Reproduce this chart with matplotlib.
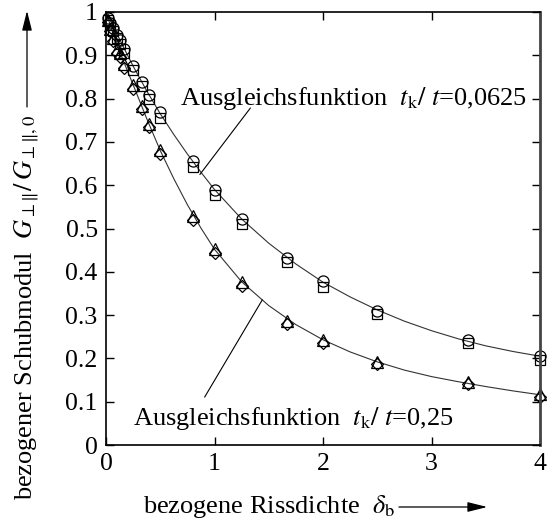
import matplotlib
matplotlib.use("Agg")
import matplotlib.pyplot as plt

plt.rcParams['font.family'] = ['Liberation Serif', 'DejaVu Serif']
plt.rcParams['mathtext.fontset'] = 'stix'

# bezogene Rissdichte (Messpunkte)
delta_b = [0.02, 0.04, 0.0667, 0.1, 0.125, 0.167, 0.25, 0.333, 0.4, 0.5,
           0.8, 1.0, 1.25, 1.667, 2.0, 2.5, 3.333, 4.0]

# t_k/t = 0,0625
circles = [0.985, 0.975, 0.962, 0.948, 0.935, 0.915, 0.875, 0.838, 0.808, 0.768,
           0.655, 0.588, 0.522, 0.432, 0.378, 0.31, 0.242, 0.206]
squares = [0.982, 0.97, 0.955, 0.94, 0.927, 0.905, 0.865, 0.828, 0.798, 0.756,
           0.642, 0.577, 0.51, 0.422, 0.365, 0.302, 0.236, 0.196]
# t_k/t = 0,25
triangles = [0.982, 0.96, 0.94, 0.915, 0.905, 0.88, 0.832, 0.782, 0.742, 0.682,
             0.53, 0.452, 0.377, 0.287, 0.242, 0.192, 0.145, 0.117]
diamonds = [0.978, 0.955, 0.932, 0.905, 0.895, 0.87, 0.822, 0.775, 0.735, 0.672,
            0.52, 0.443, 0.368, 0.28, 0.236, 0.187, 0.14, 0.112]

# Ausgleichsfunktionen
fit_x = [0, 0.05, 0.1, 0.175, 0.25, 0.375, 0.5, 0.625, 0.75, 0.875, 1.0, 1.25, 1.5,
         1.75, 2.0, 2.25, 2.5, 2.75, 3.0, 3.25, 3.5, 3.75, 4.0]
fit_upper = [1.0, 0.975, 0.95, 0.912, 0.875, 0.818, 0.765, 0.717, 0.672, 0.63, 0.59,
             0.522, 0.466, 0.418, 0.376, 0.342, 0.312, 0.286, 0.264, 0.245, 0.229,
             0.216, 0.205]
fit_lower = [1.0, 0.962, 0.925, 0.878, 0.832, 0.754, 0.68, 0.615, 0.555, 0.501, 0.452,
             0.377, 0.322, 0.278, 0.243, 0.215, 0.192, 0.173, 0.158, 0.146, 0.135,
             0.125, 0.116]

fig = plt.figure(figsize=(5.49, 5.24), dpi=100)
ax = fig.add_axes([106/549, 79/524, 434/549, 433/524])

ax.plot(fit_x, fit_upper, color='#333333', lw=0.8)
ax.plot(fit_x, fit_lower, color='#333333', lw=0.8)

mk = dict(linestyle='none', markerfacecolor='none', markeredgecolor='black',
          markeredgewidth=0.9, clip_on=False)
ax.plot(delta_b, circles, marker='o', markersize=8, **mk)
ax.plot(delta_b, squares, marker='s', markersize=7.5, **mk)
ax.plot(delta_b, triangles, marker='^', markersize=8.5, **mk)
ax.plot(delta_b, diamonds, marker='D', markersize=6, **mk)

ax.set_xlim(0, 4)
ax.set_ylim(0, 1)
ax.set_xticks([0, 1, 2, 3, 4])
ax.set_xticklabels(['0', '1', '2', '3', '4'])
ax.set_yticks([i / 10 for i in range(11)])
ax.set_yticklabels(['0', '0.1', '0.2', '0.3', '0.4', '0.5', '0.6', '0.7', '0.8', '0.9', '1'])
ax.tick_params(direction='in', top=True, right=True, length=6, width=1,
               labelsize=18.5, pad=6)
for s in ax.spines.values():
    s.set_linewidth(1.2)
ax.spines['right'].set_linewidth(2)
ax.spines['right'].set_color('#444444')

ax.text(0.68, 0.80, r"Ausgleichsfunktion  $t_{\mathrm{k}}/\ t$=0,0625",
        fontsize=19, va='center', ha='left')
ax.plot([0.866, 1.33], [0.625, 0.778], color='black', lw=0.8)
ax.text(0.25, 0.062, r"Ausgleichsfunktion  $t_{\mathrm{k}}/\ t$=0,25",
        fontsize=19, va='center', ha='left')
ax.plot([0.91, 1.44], [0.111, 0.335], color='black', lw=0.8)

# Achsbeschriftungen mit Pfeilen
xl = fig.text(143/549, 1 - 507/524, r"bezogene Rissdichte  $\delta_{\mathrm{b}}$",
              fontsize=19, ha='left', va='center')
yl = fig.text(27/549, 1 - 500/524,
              r"bezogener Schubmodul  $G_{\perp\|}/\,G_{\perp\|,0}$",
              fontsize=19, ha='center', va='bottom', rotation=90)
fig.canvas.draw()
r = fig.canvas.get_renderer()
bx = xl.get_window_extent(r).transformed(fig.transFigure.inverted())
by = yl.get_window_extent(r).transformed(fig.transFigure.inverted())
fig.add_artist(matplotlib.patches.FancyArrowPatch(
    (bx.x1 + 0.002, 1 - 507/524), (490/549, 1 - 507/524), transform=fig.transFigure,
    arrowstyle='-|>,head_length=12,head_width=3', mutation_scale=1, lw=0.9, color='black'))
fig.add_artist(matplotlib.patches.FancyArrowPatch(
    (27/549, by.y1 + 0.01), (27/549, 1 - 8/524), transform=fig.transFigure,
    arrowstyle='-|>,head_length=12,head_width=3', mutation_scale=1, lw=0.9, color='black'))

fig.savefig('out.png', dpi=100)
